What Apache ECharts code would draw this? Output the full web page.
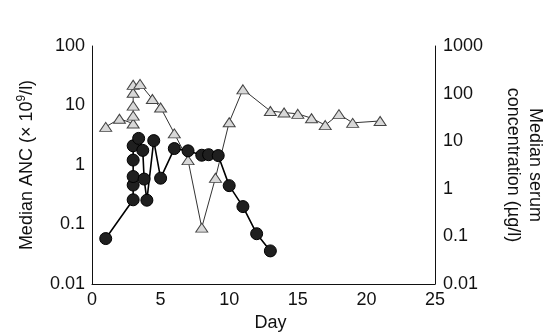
<!DOCTYPE html>
<html>
<head>
<meta charset="utf-8">
<script src="https://cdn.jsdelivr.net/npm/echarts@6/dist/echarts.min.js"></script>
<style>
html,body{margin:0;padding:0;background:#fff;}
#chart{width:547px;height:334px;}
</style>
</head>
<body>
<div id="chart"></div>
<script>
// ANC (left axis, ×10^9/l) – black circles
const ancDays   = [1, 3, 3, 3, 3, 3, 3.4, 3.7, 3.8, 4, 4.5, 5, 6, 7, 8, 8.5, 9.2, 10, 11, 12, 13];
const ancValues = [0.058, 0.26, 0.46, 0.64, 1.21, 2.1, 2.8, 1.76, 0.58, 0.256, 2.57, 0.6, 1.89, 1.73, 1.46, 1.49, 1.44, 0.45, 0.20, 0.07, 0.036];

// Serum concentration (right axis, µg/l) – grey triangles
const concDays   = [1, 2, 3, 3, 3, 3, 3, 3.5, 4.4, 5, 6, 7, 8, 9, 10, 11, 13, 14, 15, 16, 17, 18, 19, 21];
const concValues = [20, 29.6, 23.5, 34.5, 55.8, 104, 153, 160, 77, 51, 14.6, 4.0, 0.153, 1.7, 25, 123, 43, 40, 37.6, 30.4, 21.8, 37, 24.3, 26.6];

const xTicks = [0, 5, 10, 15, 20, 25];
const leftTicks = [0.01, 0.1, 1, 10, 100];
const rightTicks = [0.01, 0.1, 1, 10, 100, 1000];

const FONT = 'Liberation Sans, Arial, Helvetica, sans-serif';

function logFmt(v) {
  const p = Math.round(Math.log10(v));
  return p < 0 ? Math.pow(10, p).toFixed(-p) : String(Math.round(Math.pow(10, p)));
}

const ancData = ancDays.map((d, i) => [d, ancValues[i]]);
const concData = concDays.map((d, i) => [d, concValues[i]]);

const chart = echarts.init(document.getElementById('chart'), null, {renderer: 'canvas'});
chart.setOption({
  animation: false,
  backgroundColor: '#fff',
  grid: {left: 92, right: 112, top: 46, bottom: 50, containLabel: false, outerBoundsMode: 'none'},
  xAxis: {
    type: 'value', min: xTicks[0], max: xTicks[xTicks.length - 1], interval: 5,
    name: 'Day', nameLocation: 'middle', nameGap: 28,
    nameTextStyle: {fontFamily: FONT, fontSize: 18, color: '#111', padding: [0, 0, 0, 14]},
    axisLine: {show: true, lineStyle: {color: '#111', width: 1}},
    axisTick: {show: false},
    axisLabel: {fontFamily: FONT, fontSize: 18, color: '#111', margin: 7},
    splitLine: {show: false}
  },
  yAxis: [
    {
      type: 'log', logBase: 10, min: leftTicks[0], max: leftTicks[leftTicks.length - 1],
      position: 'left',
      name: '{a|Median ANC (× 10}{s|9}{a|/l)}',
      nameLocation: 'middle', nameGap: 54, nameRotate: 90,
      nameTextStyle: {
        fontFamily: FONT, color: '#111',
        rich: {
          a: {fontFamily: FONT, fontSize: 18, color: '#111', lineHeight: 22},
          s: {fontFamily: FONT, fontSize: 12, color: '#111', lineHeight: 22, verticalAlign: 'top'}
        }
      },
      axisLine: {show: true, lineStyle: {color: '#111', width: 1}},
      axisTick: {show: false},
      axisLabel: {fontFamily: FONT, fontSize: 18, color: '#111', margin: 7, formatter: logFmt},
      splitLine: {show: false}
    },
    {
      type: 'log', logBase: 10, min: rightTicks[0], max: rightTicks[rightTicks.length - 1],
      position: 'right',
      name: 'Median serum\nconcentration (µg/l)',
      nameLocation: 'middle', nameGap: 67, nameRotate: -90,
      nameTextStyle: {fontFamily: FONT, fontSize: 18, color: '#111', lineHeight: 22},
      axisLine: {show: true, lineStyle: {color: '#111', width: 1}},
      axisTick: {show: false},
      axisLabel: {fontFamily: FONT, fontSize: 18, color: '#111', margin: 8, formatter: logFmt},
      splitLine: {show: false}
    }
  ],
  series: [
    {
      name: 'Serum concentration', type: 'line', yAxisIndex: 1,
      data: concData,
      symbol: 'triangle', symbolSize: [12, 9],
      itemStyle: {color: '#d8d8d8', borderColor: '#444', borderWidth: 1},
      lineStyle: {color: '#333', width: 1},
      z: 2
    },
    {
      name: 'ANC', type: 'line', yAxisIndex: 0,
      data: ancData,
      symbol: 'circle', symbolSize: 12,
      itemStyle: {color: '#1f1f1f', borderColor: '#000', borderWidth: 1},
      lineStyle: {color: '#000', width: 1.6},
      z: 3
    }
  ]
});
</script>
</body>
</html>
